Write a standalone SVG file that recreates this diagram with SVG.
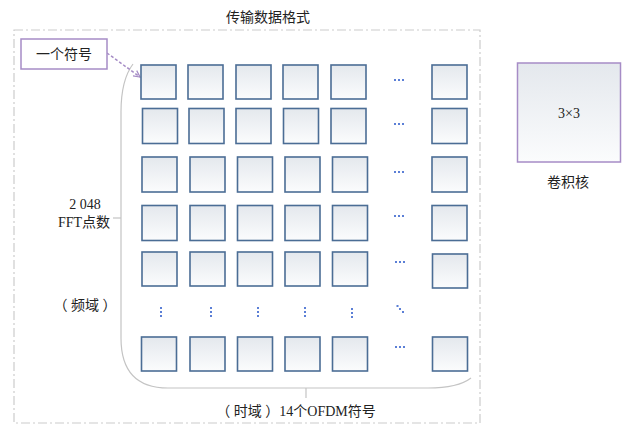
<svg xmlns="http://www.w3.org/2000/svg" width="622" height="425" viewBox="0 0 622 425">
<style>
.t{font-family:"Liberation Serif","Noto Sans CJK SC",serif;fill:#222;}
.cell{fill:url(#g);stroke:#4b6d95;stroke-width:1.6;}
.dot{fill:#5b7fd6;}
</style>
<defs>
<linearGradient id="g" x1="0" y1="0" x2="0" y2="1">
<stop offset="0" stop-color="#e4e8ed"/>
<stop offset="1" stop-color="#fbfcfd"/>
</linearGradient>
<marker id="arr" viewBox="0 0 10 10" refX="9" refY="5" markerWidth="8" markerHeight="8" orient="auto" markerUnits="userSpaceOnUse">
<path d="M1,1 L9,5 L1,9" fill="none" stroke="#a68cc6" stroke-width="1.5"/>
</marker>
<g id="hd"><rect class="dot" x="-5" y="-1" width="2" height="2"/><rect class="dot" x="-1" y="-1" width="2" height="2"/><rect class="dot" x="3" y="-1" width="2" height="2"/></g>
<g id="vd"><rect class="dot" x="-1" y="-5" width="2" height="2"/><rect class="dot" x="-1" y="-1" width="2" height="2"/><rect class="dot" x="-1" y="3" width="2" height="2"/></g>
</defs>

<text class="t" x="268" y="22" font-size="14" text-anchor="middle">传输数据格式</text>
<rect x="14" y="30" width="466" height="393" fill="none" stroke="#cccccc" stroke-width="1.2" stroke-dasharray="9 3 2 3"/>

<g id="connectors" fill="none">
<path d="M133,64 Q121,80 121,112 L121,338 Q121,388 168,388 L428,388 Q458,388 471,378" stroke="#c4c4c4" stroke-width="1.2"/>
<line x1="113" y1="218" x2="121" y2="218" stroke="#c4c4c4" stroke-width="1.2"/>
<line x1="306" y1="388" x2="306" y2="398" stroke="#c4c4c4" stroke-width="1.2"/>
<line x1="107" y1="53" x2="140" y2="77" stroke="#a68cc6" stroke-width="1.5" stroke-dasharray="3 2" marker-end="url(#arr)"/>
</g>

<g id="symbol-label">
<rect x="21" y="39" width="86" height="30" fill="#fff" stroke="#a68cc6" stroke-width="1.5"/>
<text class="t" x="64" y="59" font-size="14" text-anchor="middle">一个符号</text>
</g>

<g id="grid">
<g id="row1">
<rect class="cell" x="141" y="65" width="35" height="34"/>
<rect class="cell" x="188" y="65" width="35" height="34"/>
<rect class="cell" x="236" y="65" width="35" height="34"/>
<rect class="cell" x="283" y="65" width="35" height="34"/>
<rect class="cell" x="331" y="65" width="35" height="34"/>
<use href="#hd" x="399" y="80"/>
<rect class="cell" x="432" y="65" width="35" height="34"/>
</g>
<g id="row2">
<rect class="cell" x="142.5" y="108.5" width="35" height="35"/>
<rect class="cell" x="189" y="108.5" width="35" height="35"/>
<rect class="cell" x="236" y="108.5" width="35" height="35"/>
<rect class="cell" x="283.5" y="108.5" width="35" height="35"/>
<rect class="cell" x="331" y="108.5" width="35" height="35"/>
<use href="#hd" x="399" y="124"/>
<rect class="cell" x="432" y="108.5" width="35" height="35"/>
</g>
<g id="row3">
<rect class="cell" x="142" y="157" width="35" height="35"/>
<rect class="cell" x="190" y="157" width="35" height="35"/>
<rect class="cell" x="237.5" y="157" width="35" height="35"/>
<rect class="cell" x="285" y="157" width="35" height="35"/>
<rect class="cell" x="332.5" y="157" width="35" height="35"/>
<use href="#hd" x="399" y="172"/>
<rect class="cell" x="432" y="157" width="35" height="35"/>
</g>
<g id="row4">
<rect class="cell" x="142" y="205.5" width="35" height="35"/>
<rect class="cell" x="190" y="205.5" width="35" height="35"/>
<rect class="cell" x="237.5" y="205.5" width="35" height="35"/>
<rect class="cell" x="285" y="205.5" width="35" height="35"/>
<rect class="cell" x="332.5" y="205.5" width="35" height="35"/>
<use href="#hd" x="399" y="216"/>
<rect class="cell" x="432" y="205.5" width="35" height="35"/>
</g>
<g id="row5">
<rect class="cell" x="142" y="252" width="35" height="34"/>
<rect class="cell" x="190" y="252" width="35" height="34"/>
<rect class="cell" x="237.5" y="252" width="35" height="34"/>
<rect class="cell" x="285" y="252" width="35" height="34"/>
<rect class="cell" x="332.5" y="252" width="35" height="34"/>
<use href="#hd" x="400" y="262"/>
<rect class="cell" x="432.5" y="254" width="35" height="34"/>
</g>
<g id="rowdots">
<use href="#vd" x="161" y="312"/>
<use href="#vd" x="211" y="312"/>
<use href="#vd" x="258" y="312"/>
<use href="#vd" x="305" y="312"/>
<use href="#vd" x="352" y="313"/>
<rect class="dot" x="396.5" y="305" width="2" height="2"/>
<rect class="dot" x="399" y="308" width="2" height="2"/>
<rect class="dot" x="402" y="311" width="2" height="2"/>
</g>
<g id="row6">
<rect class="cell" x="141.5" y="337" width="35" height="34"/>
<rect class="cell" x="190" y="337" width="35" height="34"/>
<rect class="cell" x="237.5" y="337" width="35" height="34"/>
<rect class="cell" x="285" y="337" width="35" height="34"/>
<rect class="cell" x="332.5" y="337" width="35" height="34"/>
<use href="#hd" x="400" y="347"/>
<rect class="cell" x="432.5" y="337" width="35" height="34"/>
</g>
</g>

<g id="freq-label">
<text class="t" x="85" y="209" font-size="14" text-anchor="middle">2 048</text>
<text class="t" x="84" y="227" font-size="14" text-anchor="middle">FFT点数</text>
<text class="t" x="85" y="310" font-size="14" text-anchor="middle">（ 频域 ）</text>
</g>

<g id="time-label">
<text class="t" x="296" y="416" font-size="14" text-anchor="middle">（ 时域 ）14个OFDM符号</text>
</g>

<g id="kernel">
<rect x="517.5" y="63" width="103" height="99" fill="url(#g)" stroke="#a68cc6" stroke-width="1.5"/>
<text class="t" x="569" y="118" font-size="14" text-anchor="middle">3×3</text>
<text class="t" x="568" y="187" font-size="14" text-anchor="middle">卷积核</text>
</g>
</svg>
